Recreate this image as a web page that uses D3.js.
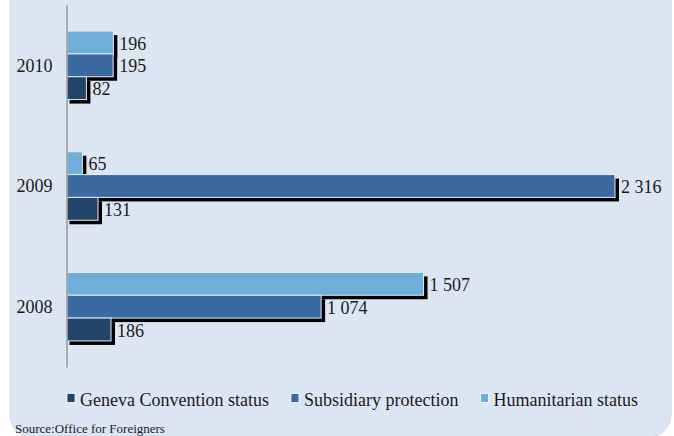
<!DOCTYPE html>
<html>
<head>
<meta charset="utf-8">
<script src="https://cdn.jsdelivr.net/npm/d3@7/dist/d3.min.js"></script>
<style>
  html, body { margin: 0; padding: 0; background: #ffffff; }
  svg { display: block; }
  text { font-family: "Liberation Serif", "DejaVu Serif", serif; fill: #1a1a1a; }
</style>
</head>
<body>
<svg id="chart" width="674" height="436"></svg>
<script>
// Granted protection statuses per year
const years = ["2010", "2009", "2008"];
const seriesNames = ["Humanitarian status", "Subsidiary protection", "Geneva Convention status"];
const humanitarian = [196, 65, 1507];
const subsidiary = [195, 2316, 1074];
const geneva = [82, 131, 186];
const legendOrder = ["Geneva Convention status", "Subsidiary protection", "Humanitarian status"];
const sourceNote = "Source:Office for Foreigners";

const colors = {
  "Humanitarian status": "#6eaed9",
  "Subsidiary protection": "#3b69a2",
  "Geneva Convention status": "#244369"
};
const valuesBySeries = {
  "Humanitarian status": humanitarian,
  "Subsidiary protection": subsidiary,
  "Geneva Convention status": geneva
};

const fmt = d3.formatLocale({ decimal: ",", thousands: "\u00a0", grouping: [3], currency: ["", ""] }).format(",d");

const svg = d3.select("#chart");

// Panel background
svg.append("rect")
  .attr("x", 10).attr("y", -30)
  .attr("width", 661).attr("height", 467)
  .attr("rx", 22).attr("ry", 22)
  .attr("fill", "#dce6f2")
  .attr("stroke", "#cfd8e4").attr("stroke-width", 1);

const x0 = 67;
const x = d3.scaleLinear().domain([0, 2500]).range([x0, x0 + 2500 * 0.2366]);
const y = d3.scaleBand().domain(years).range([5, 367]).paddingInner(0).paddingOuter(0);
const groupH = 68.5;
const sub = d3.scaleBand().domain(seriesNames)
  .range([0, groupH]);

const rows = [];
years.forEach((yr, i) => {
  seriesNames.forEach(s => rows.push({ year: yr, series: s, value: valuesBySeries[s][i] }));
});
const barY = d => y(d.year) + (y.bandwidth() - groupH) / 2 + sub(d.series);

// Shadows drawn first so that bars sit above them
svg.append("g").selectAll("rect").data(rows).join("rect")
  .attr("x", x0 + 2.5)
  .attr("y", d => barY(d) + 4)
  .attr("width", d => x(d.value) - x0 + 1.5)
  .attr("height", sub.bandwidth())
  .attr("fill", "#000");

svg.append("g").selectAll("rect").data(rows).join("rect")
  .attr("x", x0)
  .attr("y", d => barY(d))
  .attr("width", d => x(d.value) - x0)
  .attr("height", sub.bandwidth())
  .attr("fill", d => colors[d.series])
  .attr("stroke", "#e6edf6").attr("stroke-width", 1);

// Value labels
svg.append("g").selectAll("text").data(rows).join("text")
  .attr("x", d => x(d.value) + 6)
  .attr("y", d => barY(d) + sub.bandwidth() / 2 + 7)
  .attr("font-size", 18)
  .text(d => fmt(d.value));

// Category axis
const yAxis = d3.axisLeft(y).tickSize(0).tickPadding(14);
const ax = svg.append("g").attr("transform", "translate(66.5,0)").call(yAxis);
ax.select(".domain").attr("stroke", "#9a9a9a").attr("stroke-width", 1.5);
ax.selectAll(".tick text")
  .attr("font-family", "Liberation Serif, DejaVu Serif, serif")
  .attr("font-size", 18).attr("fill", "#1a1a1a").attr("dy", "0.35em");

// Legend
const legend = svg.append("g");
let lx = 67;
legendOrder.forEach(name => {
  legend.append("rect")
    .attr("x", lx).attr("y", 393.5)
    .attr("width", 8).attr("height", 9)
    .attr("fill", colors[name])
    .attr("stroke", "#ffffff").attr("stroke-width", 0.8);
  const t = legend.append("text")
    .attr("x", lx + 13).attr("y", 406)
    .attr("font-size", 18)
    .text(name);
  lx += 13 + t.node().getComputedTextLength() + 22;
});

// Source note
svg.append("text")
  .attr("x", 15).attr("y", 433)
  .attr("font-size", 13)
  .text(sourceNote);
</script>
</body>
</html>
